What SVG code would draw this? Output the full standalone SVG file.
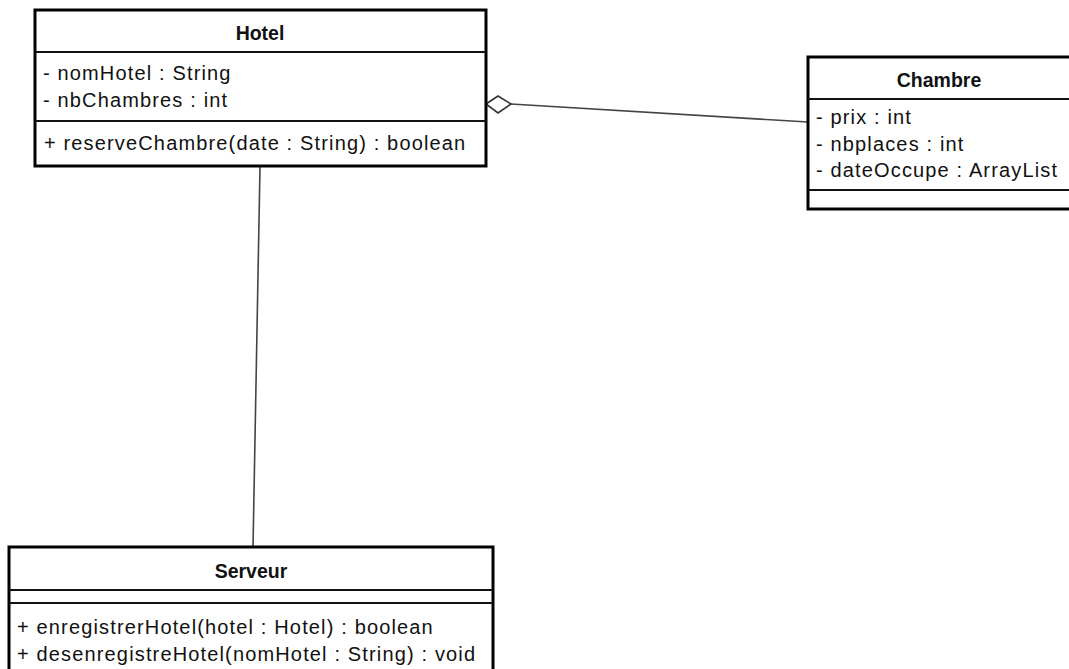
<svg xmlns="http://www.w3.org/2000/svg" width="1069" height="669" viewBox="0 0 1069 669">
<style>
.box{fill:#fff;stroke:#000;stroke-width:3}
.div{stroke:#111;stroke-width:2}
.t{font-family:"Liberation Sans",Arial,sans-serif;font-size:20px;fill:#111;letter-spacing:1.15px}
.title{font-family:"Liberation Sans",Arial,sans-serif;font-size:19.5px;font-weight:bold;fill:#111;text-anchor:middle}
.conn{stroke:#444;stroke-width:1.6;fill:none}
</style>
<rect width="1069" height="669" fill="#fff"/>
<g id="connectors">
<line class="conn" x1="260" y1="167" x2="253" y2="547"/>
<line class="conn" x1="511" y1="104" x2="808" y2="122"/>
<polygon points="486,104 498,96 511,104 498,113" fill="#fff" stroke="#333" stroke-width="1.6"/>
</g>
<g id="hotel">
<rect class="box" x="35" y="10" width="451" height="156"/>
<line class="div" x1="35" y1="52" x2="486" y2="52"/>
<line class="div" x1="35" y1="121" x2="486" y2="121"/>
<text class="title" x="260" y="40">Hotel</text>
<text class="t" x="43" y="80">- nomHotel : String</text>
<text class="t" x="43" y="107">- nbChambres : int</text>
<text class="t" x="44" y="150">+ reserveChambre(date : String) : boolean</text>
</g>
<g id="chambre">
<rect class="box" x="808" y="57" width="270" height="152"/>
<line class="div" x1="808" y1="99" x2="1078" y2="99"/>
<line class="div" x1="808" y1="190" x2="1078" y2="190"/>
<text class="title" x="939" y="87">Chambre</text>
<text class="t" x="816" y="124">- prix : int</text>
<text class="t" x="816" y="151">- nbplaces : int</text>
<text class="t" x="816" y="177">- dateOccupe : ArrayList</text>
</g>
<g id="serveur">
<rect class="box" x="9" y="547" width="484" height="140"/>
<line class="div" x1="9" y1="590" x2="493" y2="590"/>
<line class="div" x1="9" y1="603" x2="493" y2="603"/>
<text class="title" x="251" y="578">Serveur</text>
<text class="t" x="17" y="634">+ enregistrerHotel(hotel : Hotel) : boolean</text>
<text class="t" x="17" y="661">+ desenregistreHotel(nomHotel : String) : void</text>
</g>
</svg>
